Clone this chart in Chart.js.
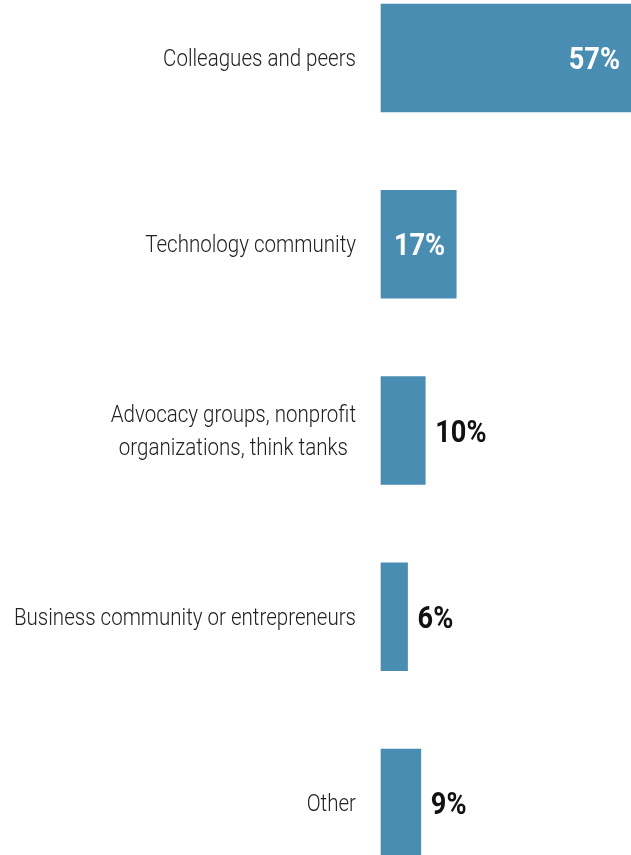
<!DOCTYPE html>
<html>
<head>
<meta charset="utf-8">
<script src="https://cdn.jsdelivr.net/npm/chart.js@4/dist/chart.umd.min.js"></script>
<style>
  html, body { margin: 0; padding: 0; background: #fff; overflow: hidden; }
  #wrap { width: 631px; height: 855px; position: relative; }
</style>
</head>
<body>
<div id="wrap"><canvas id="sourcesChart" width="631" height="855"></canvas></div>
<script>
// categories (multi-line labels as arrays) and shares in percent
const categories = [
  ["Colleagues and peers"],
  ["Technology community"],
  ["Advocacy groups, nonprofit", "organizations, think tanks"],
  ["Business community or entrepreneurs"],
  ["Other"]
];
const shares = [57, 17, 10, 6, 9];
const valueLabels = ["57%", "17%", "10%", "6%", "9%"];

const BAR_COLOR = "#4a8db2";
const LABEL_FONT = "300 24px Roboto";
const VALUE_FONT = "bold 32px Roboto";
const LABEL_SQUEEZE = 0.855; // narrow the glyphs a bit, condensed look
const VALUE_SQUEEZE = 0.85;

function drawText(ctx, text, x, y, align, squeeze) {
  // draw horizontally squeezed text anchored at x
  ctx.save();
  ctx.translate(x, y);
  ctx.scale(squeeze, 1);
  ctx.textAlign = align;
  ctx.fillText(text, 0, 0);
  ctx.restore();
}

const labelsPlugin = {
  id: 'labelsPlugin',
  afterDatasetsDraw(chart) {
    const ctx = chart.ctx;
    const yScale = chart.scales.y;
    const meta = chart.getDatasetMeta(0);
    const labelRight = chart.chartArea.left - 25;

    ctx.save();
    ctx.textBaseline = 'middle';

    // category labels, multi-line ones centred on their widest line
    ctx.font = LABEL_FONT;
    ctx.fillStyle = "#222";
    categories.forEach((lines, i) => {
      const cy = yScale.getPixelForValue(i) + 2;
      const widths = lines.map(l => ctx.measureText(l).width * LABEL_SQUEEZE);
      const maxW = Math.max(...widths);
      const centerX = labelRight - maxW / 2;
      const lineH = 33;
      lines.forEach((l, j) => {
        const ly = cy + (j - (lines.length - 1) / 2) * lineH;
        drawText(ctx, l, centerX, ly, 'center', LABEL_SQUEEZE);
      });
    });

    // value labels: inside the bar when they fit, otherwise just past the end
    ctx.font = VALUE_FONT;
    meta.data.forEach((bar, i) => {
      const txt = valueLabels[i];
      const w = ctx.measureText(txt).width * VALUE_SQUEEZE;
      const barW = bar.x - bar.base;
      if (w + 16 < barW) {
        ctx.fillStyle = "#fff";
        drawText(ctx, txt, Math.min(bar.x, chart.width) - 11, bar.y + 3, 'right', VALUE_SQUEEZE);
      } else {
        ctx.fillStyle = "#111";
        drawText(ctx, txt, bar.x + 10, bar.y + 3, 'left', VALUE_SQUEEZE);
      }
    });
    ctx.restore();
  }
};

new Chart(document.getElementById('sourcesChart').getContext('2d'), {
  type: 'bar',
  data: {
    labels: categories,
    datasets: [{
      data: shares,
      backgroundColor: BAR_COLOR,
      borderWidth: 0,
      barThickness: 108,
      clip: false
    }]
  },
  options: {
    indexAxis: 'y',
    responsive: false,
    animation: false,
    layout: { padding: { left: 381, right: 0, top: 58, bottom: 52 } },
    scales: {
      x: { display: false, min: 0, max: 56.5 },
      y: { display: false, offset: false }
    },
    plugins: {
      legend: { display: false },
      tooltip: { enabled: false }
    }
  },
  plugins: [labelsPlugin]
});
</script>
</body>
</html>
